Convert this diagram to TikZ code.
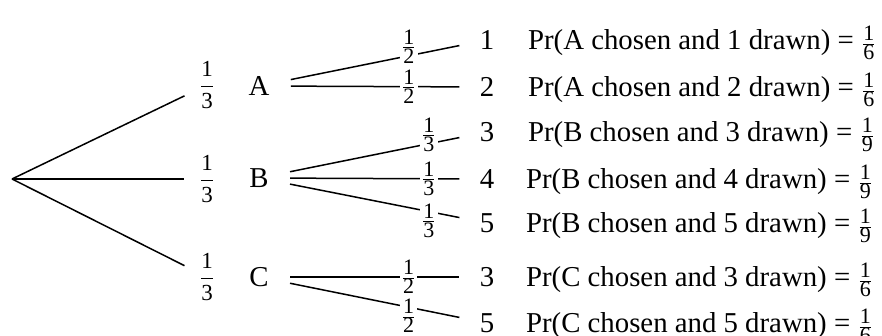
\documentclass[tikz,border=0pt]{standalone}
\usepackage{fontspec}
\setmainfont{Liberation Serif}
\usetikzlibrary{positioning}
% display fraction (first stage) and small text fraction (branches, results)
\newcommand{\pfrac}[3]{{\fontsize{#1}{#1}\selectfont$\displaystyle\frac{\mbox{#2}}{\mbox{#3}}$}}
\newcommand{\bfrac}[3]{{\fontsize{#1}{#1}\selectfont$\frac{\mbox{#2}}{\mbox{#3}}$}}

\begin{document}
\begin{tikzpicture}[x=0.5pt, y=-0.5pt,
    every node/.style={font=\fontsize{14.4}{17}\selectfont},
    branch/.style={line width=0.75pt},
    first/.style={inner xsep=7pt, inner ysep=0pt},
    letter/.style={inner xsep=10.5pt, inner ysep=2pt},
    leaf/.style={inner xsep=10pt, inner ysep=2pt},
    prob/.style={fill=white, inner xsep=0.5pt, inner ysep=0pt},
    probup/.style={prob, yshift=4.5pt},
    probflat/.style={prob, yshift=0pt},
    probdown/.style={prob, yshift=-4.5pt},
    outcome/.style={anchor=base west, inner ysep=0pt}]
\useasboundingbox (0,0) rectangle (882,336);

% first stage
\coordinate (root) at (12,179);
\node[first] (pA) at (207,85) {\pfrac{11.5}{1}{3}};
\node[first] (pB) at (207,179) {\pfrac{11.5}{1}{3}};
\node[first] (pC) at (207,277) {\pfrac{11.5}{1}{3}};
\draw[branch] (root) -- (pA);
\draw[branch] (root) -- (pB);
\draw[branch] (root) -- (pC);

\node[letter] (A) at (259,86) {A};
\node[letter] (B) at (259,178) {B};
\node[letter] (C) at (259,277) {C};

% second stage
\node[leaf] (n1) at (487,40) {1};
\node[leaf] (n2) at (487,87) {2};
\node[leaf] (n3) at (487,132) {3};
\node[leaf] (n4) at (487,179) {4};
\node[leaf] (n5) at (487,223) {5};
\node[leaf] (n6) at (487,277) {3};
\node[leaf] (n7) at (487,323) {5};

\draw[branch] (A) -- node[probup, pos=0.7] {\bfrac{11}{1}{2}} (n1);
\draw[branch] (A) -- node[probflat, pos=0.7] {\bfrac{11}{1}{2}} (n2);
\draw[branch] (B) -- node[probup, pos=0.82] {\bfrac{11}{1}{3}} (n3);
\draw[branch] (B) -- node[probflat, pos=0.82] {\bfrac{11}{1}{3}} (n4);
\draw[branch] (B) -- node[probdown, pos=0.82] {\bfrac{11}{1}{3}} (n5);
\draw[branch] (C) -- node[probflat, pos=0.7] {\bfrac{11}{1}{2}} (n6);
\draw[branch] (C) -- node[probdown, pos=0.7] {\bfrac{11}{1}{2}} (n7);

% outcomes
\node[outcome] (r1) at (521,49.5) {Pr(A chosen and 1 drawn) = \bfrac{11}{1}{6}};
\node[outcome] (r2) at (521,96.5) {Pr(A chosen and 2 drawn) = \bfrac{11}{1}{6}};
\node[outcome] (r3) at (521,141.5) {Pr(B chosen and 3 drawn) = \bfrac{11}{1}{9}};
\node[outcome] (r4) at (519,188.5) {Pr(B chosen and 4 drawn) = \bfrac{11}{1}{9}};
\node[outcome] (r5) at (519,232.5) {Pr(B chosen and 5 drawn) = \bfrac{11}{1}{9}};
\node[outcome] (r6) at (519,286.5) {Pr(C chosen and 3 drawn) = \bfrac{11}{1}{6}};
\node[outcome] (r7) at (519,332.5) {Pr(C chosen and 5 drawn) = \bfrac{11}{1}{6}};
\end{tikzpicture}
\end{document}
